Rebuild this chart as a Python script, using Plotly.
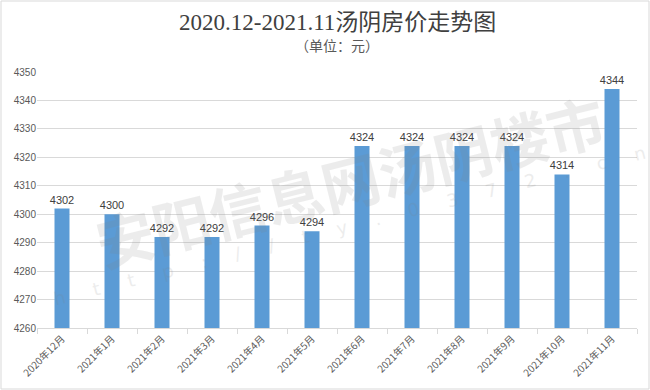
import plotly.graph_objects as go

categories = ["2020年12月", "2021年1月", "2021年2月", "2021年3月", "2021年4月", "2021年5月",
              "2021年6月", "2021年7月", "2021年8月", "2021年9月", "2021年10月", "2021年11月"]
prices = [4302, 4300, 4292, 4292, 4296, 4294, 4324, 4324, 4324, 4324, 4314, 4344]
y_ticks = [4260, 4270, 4280, 4290, 4300, 4310, 4320, 4330, 4340, 4350]

title_text = "2020.12-2021.11汤阴房价走势图"
subtitle_text = "（单位：元）"
watermark = "安阳信息网汤阴楼市"
watermark_url = "\u00a0\u00a0\u00a0\u00a0\u00a0".join(list("http://ty.0372.cn"))

L, R, T, B = 37, 13, 72, 62
W, H = 650, 390
plot_w = W - L - R
plot_h = H - T - B


def px_to_paper_y(py):
    return 1 - (py - T) / plot_h


def px_to_paper_x(px):
    return (px - L) / plot_w


fig = go.Figure()
fig.add_trace(go.Bar(
    x=categories, y=prices,
    marker=dict(color="#5B9BD5", line=dict(width=0)),
    width=0.3,
    text=[str(v) for v in prices], textposition="outside",
    constraintext="none",
    textfont=dict(family="Arial, Liberation Sans", size=11, color="#404040"),
    cliponaxis=False,
    hoverinfo="skip",
))

fig.update_layout(
    width=W, height=H,
    margin=dict(l=L, r=R, t=T, b=B),
    paper_bgcolor="white", plot_bgcolor="white",
    showlegend=False,
    annotations=[
        dict(text=title_text, x=0.5, xref="paper", y=px_to_paper_y(22), yref="paper",
             yanchor="middle", showarrow=False,
             font=dict(family="Liberation Serif, Noto Sans CJK SC", size=23, color="#404040")),
        dict(text=subtitle_text, x=0.5, xref="paper", y=px_to_paper_y(46), yref="paper",
             yanchor="middle", showarrow=False,
             font=dict(family="Liberation Serif, Noto Sans CJK SC", size=14, color="#595959")),
        dict(text=watermark, x=px_to_paper_x(350), xref="paper", y=px_to_paper_y(180), yref="paper",
             yanchor="middle", showarrow=False, textangle=-14, opacity=0.14,
             font=dict(family="Noto Sans CJK SC", size=58, color="#808080", weight="bold")),
        dict(text=watermark_url, x=px_to_paper_x(350), xref="paper", y=px_to_paper_y(225), yref="paper",
             yanchor="middle", showarrow=False, textangle=-14, opacity=0.14,
             font=dict(family="DejaVu Sans", size=18, color="#808080")),
    ],
)

fig.update_yaxes(
    range=[4260, 4350], tickvals=y_ticks,
    showgrid=True, gridcolor="#D9D9D9", gridwidth=1,
    zeroline=False, showline=False, ticks="",
    tickfont=dict(family="Arial, Liberation Sans", size=10, color="#595959"),
)
fig.update_xaxes(
    type="category", tickangle=-45,
    showline=True, linecolor="#D9D9D9", linewidth=1,
    ticks="outside", ticklen=5, tickcolor="#D9D9D9", tickson="boundaries",
    tickfont=dict(family="Noto Sans CJK SC", size=10, color="#595959"),
)

fig.add_shape(type="rect", xref="paper", yref="paper",
              x0=-(L - 1) / plot_w, x1=1 + (R - 1) / plot_w,
              y0=-(B - 1) / plot_h, y1=1 + (T - 1) / plot_h,
              line=dict(color="#D9D9D9", width=1))

fig.write_html("out.html", config={"displayModeBar": False},
               post_script="document.body.style.margin='0';")
